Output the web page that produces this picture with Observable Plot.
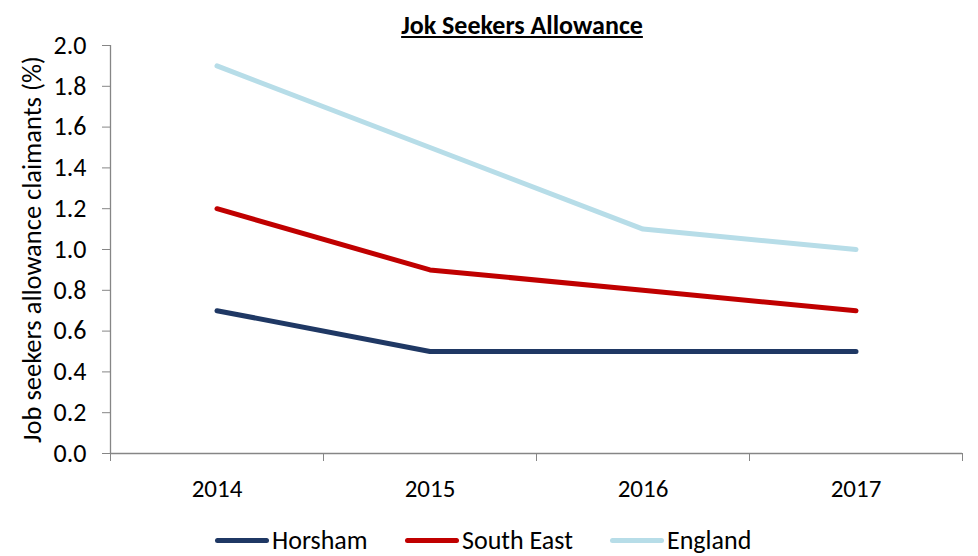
<!DOCTYPE html>
<html>
<head>
<meta charset="utf-8">
<script src="https://cdn.jsdelivr.net/npm/d3@7"></script>
<script src="https://cdn.jsdelivr.net/npm/@observablehq/plot@0.6"></script>
<style>
  body { margin: 0; background: #fff; font-family: Carlito, Lato, "Open Sans", sans-serif; }
  #title { width: 978px; box-sizing: border-box; padding-left: 66px; height: 38px; line-height: 50px; text-align: center; font-size: 26px; font-weight: bold; text-decoration: underline; color: #000; }
  #legend { width: 978px; height: 36px; position: relative; font-size: 26px; color: #000; }
  .item { position: absolute; top: 5px; display: flex; align-items: center; line-height: 30px; }
  .sw { width: 54px; height: 5px; border-radius: 3px; margin-right: 3px; }
</style>
</head>
<body>
<div id="title">Jok Seekers Allowance</div>
<div id="chart"></div>
<div id="legend"></div>
<script>
const years = [2014, 2015, 2016, 2017];
const horsham = [0.7, 0.5, 0.5, 0.5];
const southEast = [1.2, 0.9, 0.8, 0.7];
const england = [1.9, 1.5, 1.1, 1.0];
const seriesNames = ["Horsham", "South East", "England"];
const seriesColors = ["#1F3864", "#C00000", "#B7DDE8"];
const yTicks = [0, 0.2, 0.4, 0.6, 0.8, 1.0, 1.2, 1.4, 1.6, 1.8, 2.0];
const yLabel = "Job seekers allowance claimants (%)";

const seriesValues = [horsham, southEast, england];
const data = [];
seriesNames.forEach((s, i) => years.forEach((y, j) => data.push({series: s, year: y, value: seriesValues[i][j]})));
const boundaries = [years[0] - 0.5, ...years.map(y => y + 0.5)];

const axisColor = "#868686";
const plot = Plot.plot({
  width: 978,
  height: 482,
  marginLeft: 110,
  marginRight: 16,
  marginTop: 7,
  marginBottom: 67,
  style: {fontFamily: "Carlito, Lato, 'Open Sans', sans-serif", fontSize: "25px", color: "#000", background: "#fff", overflow: "visible"},
  x: {domain: [years[0] - 0.5, years[years.length - 1] + 0.5]},
  y: {domain: [0, 2]},
  color: {domain: seriesNames, range: seriesColors},
  marks: [
    Plot.axisY({ticks: yTicks, tickFormat: d => d.toFixed(1), tickSize: 8, tickPadding: 16, stroke: axisColor, fill: "#000", fontSize: 26, label: null}),
    Plot.ruleX([years[0] - 0.5], {stroke: axisColor, strokeWidth: 1.3}),
    Plot.axisX({ticks: boundaries, tickFormat: () => "", tickSize: 8, stroke: axisColor, label: null}),
    Plot.axisX({ticks: years, tickFormat: d => String(d), tickSize: 0, tickPadding: 26, fill: "#000", fontSize: 25, label: null}),
    Plot.ruleY([0], {stroke: axisColor, strokeWidth: 1.3}),
    Plot.line(data, {x: "year", y: "value", z: "series", stroke: "series", strokeWidth: 5, curve: "linear"}),
    Plot.text([yLabel], {frameAnchor: "left", dx: -78, rotate: -90, textAnchor: "middle", fontSize: 26.5, fill: "#000"})
  ]
});
document.getElementById("chart").appendChild(plot);

const legend = document.getElementById("legend");
const pos = [215, 405, 610];
seriesNames.forEach((s, i) => {
  const it = document.createElement("div");
  it.className = "item";
  it.style.left = pos[i] + "px";
  it.innerHTML = `<span class="sw" style="background:${seriesColors[i]}"></span><span>${s}</span>`;
  legend.appendChild(it);
});
</script>
</body>
</html>
